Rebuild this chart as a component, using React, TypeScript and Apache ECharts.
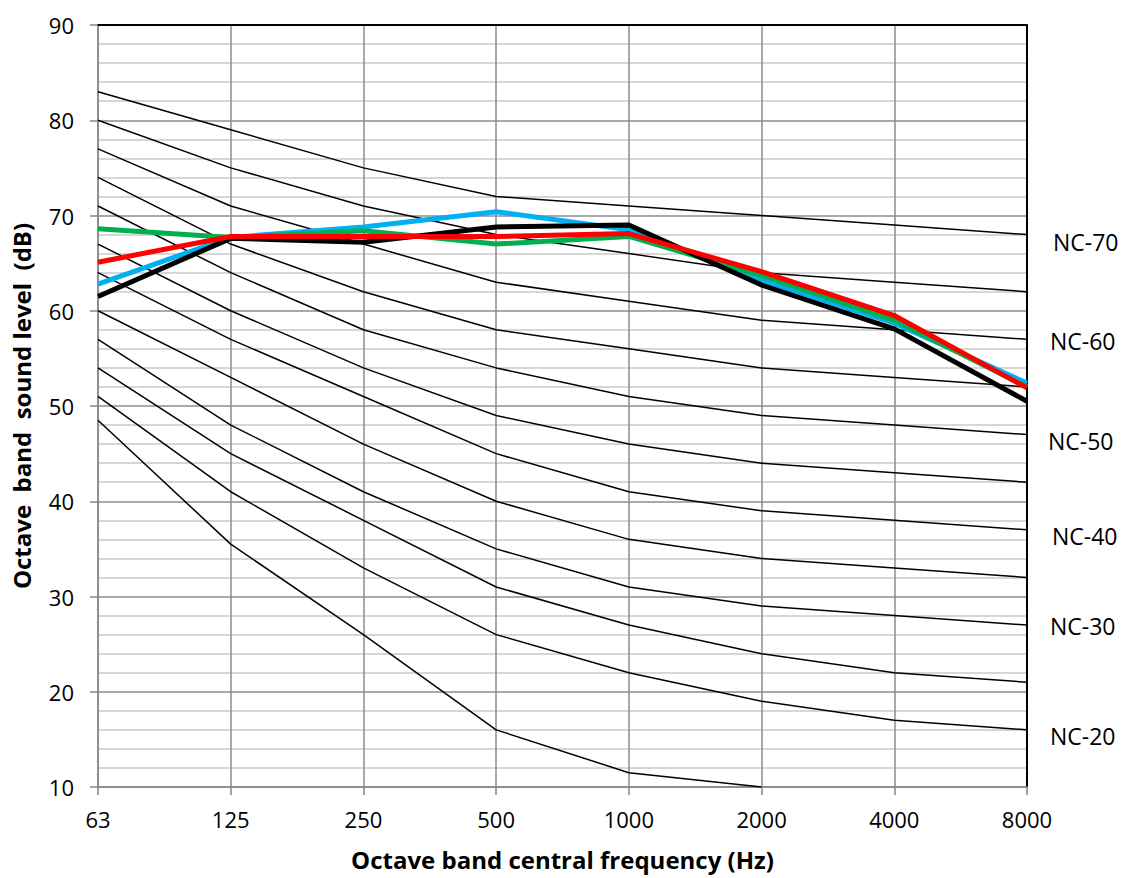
import React, { useEffect, useRef } from "react";
import * as echarts from "echarts";

const frequencies = ["63", "125", "250", "500", "1000", "2000", "4000", "8000"];

const ncNames = ["NC-70", "NC-65", "NC-60", "NC-55", "NC-50", "NC-45", "NC-40", "NC-35", "NC-30", "NC-25", "NC-20", "NC-15"];
const nc70 = [83, 79, 75, 72, 71, 70, 69, 68];
const nc65 = [80, 75, 71, 68, 66, 64, 63, 62];
const nc60 = [77, 71, 67, 63, 61, 59, 58, 57];
const nc55 = [74, 67, 62, 58, 56, 54, 53, 52];
const nc50 = [71, 64, 58, 54, 51, 49, 48, 47];
const nc45 = [67, 60, 54, 49, 46, 44, 43, 42];
const nc40 = [64, 57, 51, 45, 41, 39, 38, 37];
const nc35 = [60, 53, 46, 40, 36, 34, 33, 32];
const nc30 = [57, 48, 41, 35, 31, 29, 28, 27];
const nc25 = [54, 45, 38, 31, 27, 24, 22, 21];
const nc20 = [51, 41, 33, 26, 22, 19, 17, 16];
const nc15 = [48.5, 35.5, 26, 16, 11.5, 10, null, null];
const ncCurves = [nc70, nc65, nc60, nc55, nc50, nc45, nc40, nc35, nc30, nc25, nc20, nc15];
const ncLabelled = ["NC-70", "NC-60", "NC-50", "NC-40", "NC-30", "NC-20"];

const measuredBlue = [62.8, 67.7, 68.8, 70.4, 68.5, 63.2, 58.7, 52.4];
const measuredGreen = [68.6, 67.7, 68.4, 67.0, 67.8, 63.7, 59.0, 52.0];
const measuredBlack = [61.5, 67.6, 67.2, 68.8, 69.0, 62.7, 58.1, 50.5];
const measuredRed = [65.1, 67.8, 67.8, 67.8, 68.1, 64.1, 59.5, 51.9];

const yTicks = [10, 20, 30, 40, 50, 60, 70, 80, 90];

const labelOffsets: Record<string, [number, number]> = {
  "NC-70": [18, 7],
  "NC-60": [15, 2],
  "NC-50": [13, 6],
  "NC-40": [17, 6],
  "NC-30": [15, 1],
  "NC-20": [15, 6],
};

const FONT = "'Open Sans', 'Noto Sans', sans-serif";

export default function App() {
  const ref = useRef<HTMLDivElement>(null);
  useEffect(() => {
    document.body.style.margin = "0";
    if (!ref.current) return;
    const chart = echarts.init(ref.current, undefined, { renderer: "svg" });

    const ncSeries = ncCurves.map((data, i) => {
      const name = ncNames[i];
      const labelled = ncLabelled.includes(name);
      return {
        name,
        type: "line",
        data,
        symbol: "none",
        connectNulls: false,
        lineStyle: { color: "#000", width: 1.5 },
        z: 3,
        endLabel: labelled
          ? {
              show: true,
              formatter: name,
              color: "#000",
              fontSize: 23,
              fontFamily: FONT,
              offset: labelOffsets[name],
            }
          : { show: false },
      };
    });

    const measured = [
      { name: "Blue", data: measuredBlue, color: "#00B0F0" },
      { name: "Green", data: measuredGreen, color: "#00B050" },
      { name: "Black", data: measuredBlack, color: "#000000" },
      { name: "Red", data: measuredRed, color: "#FF0000" },
    ].map((m, i) => ({
      name: m.name,
      type: "line",
      data: m.data,
      symbol: "none",
      lineStyle: { color: m.color, width: 5 },
      z: 5 + i,
    }));

    chart.setOption({
      animation: false,
      backgroundColor: "#fff",
      textStyle: { fontFamily: FONT },
      grid: { left: 98, right: 98, top: 25, bottom: 91, containLabel: false },
      xAxis: [
        {
          type: "category",
          data: frequencies,
          boundaryGap: false,
          name: "Octave band central frequency (Hz)",
          nameLocation: "middle",
          nameGap: 60,
          nameTextStyle: { fontSize: 24, fontWeight: "bold", color: "#000", fontFamily: FONT },
          axisLine: { show: true, lineStyle: { color: "#868686", width: 1.5 } },
          axisTick: { show: true, length: 8, lineStyle: { color: "#868686", width: 1.5 } },
          axisLabel: { color: "#000", fontSize: 22, margin: 21, fontFamily: FONT },
          splitLine: { show: true, lineStyle: { color: "#8C8C8C", width: 1.5 } },
        },
        {
          type: "category",
          data: frequencies,
          boundaryGap: false,
          position: "top",
          axisLine: { show: true, lineStyle: { color: "#000", width: 2 } },
          axisTick: { show: false },
          axisLabel: { show: false },
          splitLine: { show: false },
        },
      ],
      yAxis: [
        {
          type: "value",
          min: yTicks[0],
          max: yTicks[yTicks.length - 1],
          interval: 10,
          name: "Octave  band  sound level  (dB)",
          nameLocation: "middle",
          nameGap: 65,
          nameTextStyle: { fontSize: 24, fontWeight: "bold", color: "#000", fontFamily: FONT },
          axisLine: { show: true, lineStyle: { color: "#868686", width: 1.5 } },
          axisTick: { show: true, length: 8, lineStyle: { color: "#868686", width: 1.5 } },
          axisLabel: { color: "#000", fontSize: 22, margin: 24, fontFamily: FONT },
          splitLine: { show: true, lineStyle: { color: "#8C8C8C", width: 1.5 } },
          minorTick: { show: false, splitNumber: 5 },
          minorSplitLine: { show: true, lineStyle: { color: "#C8C8C8", width: 1.5 } },
        },
        {
          type: "value",
          min: yTicks[0],
          max: yTicks[yTicks.length - 1],
          interval: 10,
          position: "right",
          axisLine: { show: true, lineStyle: { color: "#000", width: 2 } },
          axisTick: { show: false },
          axisLabel: { show: false },
          splitLine: { show: false },
        },
      ],
      series: [...ncSeries, ...measured],
    });
    return () => chart.dispose();
  }, []);
  return <div ref={ref} style={{ width: 1125, height: 878 }} />;
}
